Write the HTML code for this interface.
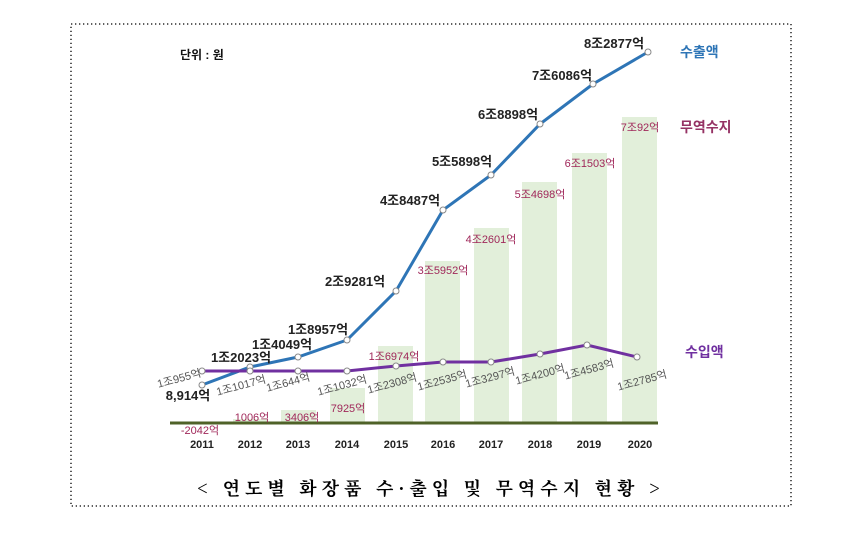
<!DOCTYPE html>
<html><head><meta charset="utf-8"><style>
body{margin:0;background:#fff;width:866px;height:532px;overflow:hidden}
svg text{font-family:"Liberation Sans","Noto Sans CJK KR",sans-serif}
</style></head><body>
<svg width="866" height="532" xmlns="http://www.w3.org/2000/svg">
<rect x="71" y="24" width="720" height="482" fill="none" stroke="#000" stroke-width="1.3" stroke-dasharray="1.3,2.7"/>
<g fill="#e2efda">
<rect x="233" y="419" width="35" height="4"/>
<rect x="281" y="410" width="35" height="13"/>
<rect x="330" y="388" width="35" height="35"/>
<rect x="378" y="346" width="35" height="77"/>
<rect x="425" y="261" width="35" height="162"/>
<rect x="474" y="228" width="35" height="195"/>
<rect x="522" y="182" width="35" height="241"/>
<rect x="572" y="153" width="35" height="270"/>
<rect x="622" y="117" width="35" height="306"/>
</g>
<line x1="170" y1="423" x2="658" y2="423" stroke="#4f6228" stroke-width="3"/>
<g font-size="11" font-weight="bold" fill="#222" text-anchor="middle">
<text x="202" y="448">2011</text><text x="250" y="448">2012</text><text x="298" y="448">2013</text><text x="347" y="448">2014</text><text x="396" y="448">2015</text><text x="443" y="448">2016</text><text x="491" y="448">2017</text><text x="540" y="448">2018</text><text x="589" y="448">2019</text><text x="640" y="448">2020</text>
</g>
<polyline fill="none" stroke="#2e75b6" stroke-width="3" points="202,385 250,367 298,357 347,340 396,291 443,210 491,175 540,124 593,84 648,52"/>
<polyline fill="none" stroke="#7030a0" stroke-width="3" points="202,371 250,371 298,371 347,371 396,366 443,362 491,362 540,354 587,345 637,357"/>
<g fill="#fff" stroke="#888" stroke-width="1">
<circle cx="202" cy="385" r="3"/><circle cx="250" cy="367" r="3"/><circle cx="298" cy="357" r="3"/><circle cx="347" cy="340" r="3"/><circle cx="396" cy="291" r="3"/><circle cx="443" cy="210" r="3"/><circle cx="491" cy="175" r="3"/><circle cx="540" cy="124" r="3"/><circle cx="593" cy="84" r="3"/><circle cx="648" cy="52" r="3"/>
<circle cx="202" cy="371" r="3"/><circle cx="250" cy="371" r="3"/><circle cx="298" cy="371" r="3"/><circle cx="347" cy="371" r="3"/><circle cx="396" cy="366" r="3"/><circle cx="443" cy="362" r="3"/><circle cx="491" cy="362" r="3"/><circle cx="540" cy="354" r="3"/><circle cx="587" cy="345" r="3"/><circle cx="637" cy="357" r="3"/>
</g>
<g font-size="13" font-weight="bold" fill="#222" text-anchor="middle">
<text x="188" y="400">8,914억</text>
<text x="241" y="362">1조2023억</text>
<text x="282" y="349">1조4049억</text>
<text x="318" y="334">1조8957억</text>
<text x="355" y="286">2조9281억</text>
<text x="410" y="205">4조8487억</text>
<text x="462" y="166">5조5898억</text>
<text x="508" y="119">6조8898억</text>
<text x="562" y="80">7조6086억</text>
<text x="614" y="48">8조2877억</text>
</g>
<g font-size="11" fill="#555" text-anchor="middle">
<text transform="translate(180,382) rotate(-15)">1조955억</text>
<text transform="translate(242,389) rotate(-15)">1조1017억</text>
<text transform="translate(289,386) rotate(-15)">1조644억</text>
<text transform="translate(343,389) rotate(-15)">1조1032억</text>
<text transform="translate(393,387) rotate(-15)">1조2308억</text>
<text transform="translate(443,384) rotate(-15)">1조2535억</text>
<text transform="translate(491,381) rotate(-15)">1조3297억</text>
<text transform="translate(541,378) rotate(-15)">1조4200억</text>
<text transform="translate(590,373) rotate(-15)">1조4583억</text>
<text transform="translate(643,384) rotate(-15)">1조2785억</text>
</g>
<g font-size="11" fill="#a0285a" text-anchor="middle">
<text x="200" y="434">-2042억</text>
<text x="252" y="421">1006억</text>
<text x="302" y="421">3406억</text>
<text x="348" y="412">7925억</text>
<text x="394" y="360">1조6974억</text>
<text x="443" y="274">3조5952억</text>
<text x="491" y="243">4조2601억</text>
<text x="540" y="198">5조4698억</text>
<text x="590" y="167">6조1503억</text>
<text x="640" y="131">7조92억</text>
</g>
<text x="180" y="59" font-size="12" font-weight="bold" fill="#111">단위 : 원</text>
<g font-size="14" font-weight="bold">
<text x="680" y="57" fill="#2e75b6">수출액</text>
<text x="680" y="132" fill="#953264">무역수지</text>
<text x="685" y="357" fill="#7030a0">수입액</text>
</g>
<text x="431" y="495" font-size="18" font-weight="bold" text-anchor="middle" letter-spacing="5" fill="#000" style="font-family:'Noto Serif CJK SC','Liberation Serif',serif">&lt; 연도별 화장품 수·출입 및 무역수지 현황 &gt;</text>
</svg>
</body></html>
